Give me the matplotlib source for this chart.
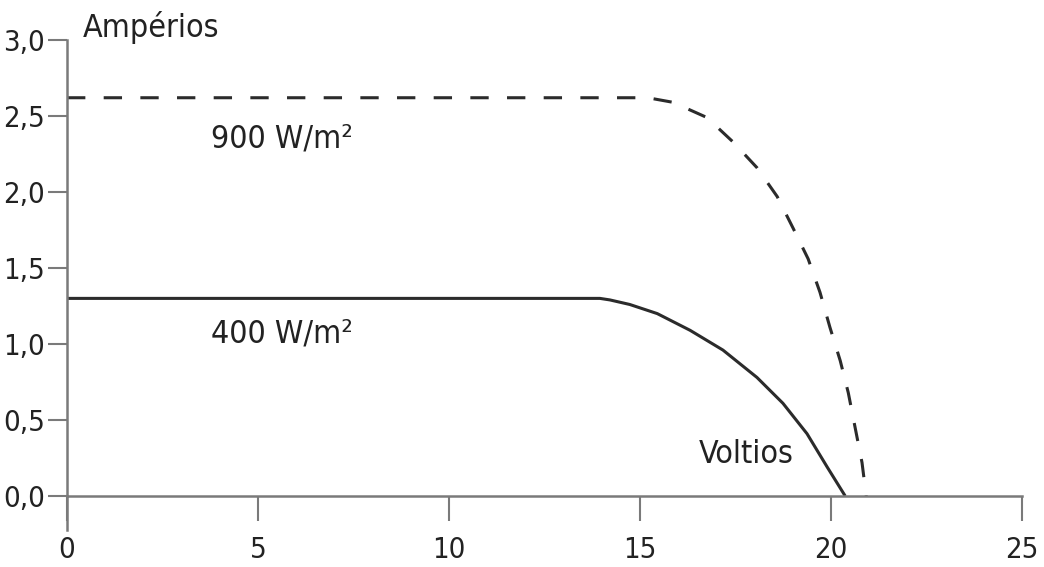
import matplotlib
matplotlib.use("Agg")
import matplotlib.pyplot as plt
from matplotlib.ticker import FuncFormatter

# curva I-V a 400 W/m2 (linea continua)
v_400 = [0, 13.95, 14.21, 14.73, 15.45, 16.31, 17.17, 18.06, 18.74, 19.37, 19.90, 20.37]
i_400 = [1.30, 1.30, 1.29, 1.26, 1.20, 1.09, 0.96, 0.78, 0.61, 0.41, 0.19, 0.0]

# curva I-V a 900 W/m2 (linea discontinua)
v_900 = [0, 15.2, 15.86, 16.75, 17.43, 18.06, 18.59, 19.01, 19.40, 19.71, 19.97, 20.24, 20.45, 20.63, 20.81, 20.92]
i_900 = [2.62, 2.62, 2.59, 2.49, 2.33, 2.16, 1.97, 1.76, 1.56, 1.34, 1.11, 0.89, 0.68, 0.45, 0.22, 0.0]

x_ticks = [0, 5, 10, 15, 20, 25]
y_ticks = [0.0, 0.5, 1.0, 1.5, 2.0, 2.5, 3.0]

plt.rcParams['font.family'] = ['DejaVu Sans']
plt.rcParams['font.stretch'] = 'condensed'
txt = '#222222'
axc = '#7a7a7a'
linec = '#2b2b2b'

fig = plt.figure(figsize=(10.44, 5.67), dpi=100)
ax = fig.add_axes([0.0642, 0.1252, 0.9148, 0.8043])

ax.plot(v_400, i_400, color=linec, lw=2.2, solid_capstyle='butt', solid_joinstyle='round')
ax.plot(v_900, i_900, color=linec, lw=2.2, dashes=(6, 6))

ax.set_xlim(0, 25)
ax.set_ylim(0, 3.0)
ax.set_xticks(x_ticks)
ax.set_yticks(y_ticks)
ax.yaxis.set_major_formatter(FuncFormatter(lambda v, p: f"{v:.1f}".replace('.', ',')))

for s in ['top', 'right']:
    ax.spines[s].set_visible(False)
for s in ['left', 'bottom']:
    ax.spines[s].set_color(axc)
    ax.spines[s].set_linewidth(1.8)

ax.tick_params(axis='both', colors=axc, width=1.5, labelcolor=txt, labelsize=21)
ax.tick_params(axis='x', length=18, pad=11)
ax.tick_params(axis='y', length=14, pad=2)
for lab in ax.get_xticklabels() + ax.get_yticklabels():
    lab.set_fontstretch('condensed')

# prolongacion del eje vertical bajo el cero
ax.axvline(0, ymin=-0.075, ymax=0, color=axc, lw=1.8, clip_on=False)

ax.text(0.42, 3.02, 'Ampérios', fontsize=23, color=txt, va='baseline', ha='left', clip_on=False)
ax.text(5.63, 2.29, '900 W/m²', fontsize=23, color=txt, va='baseline', ha='center')
ax.text(5.63, 1.007, '400 W/m²', fontsize=23, color=txt, va='baseline', ha='center')
ax.text(17.78, 0.217, 'Voltios', fontsize=23, color=txt, va='baseline', ha='center')

fig.savefig('out.png', dpi=100)
